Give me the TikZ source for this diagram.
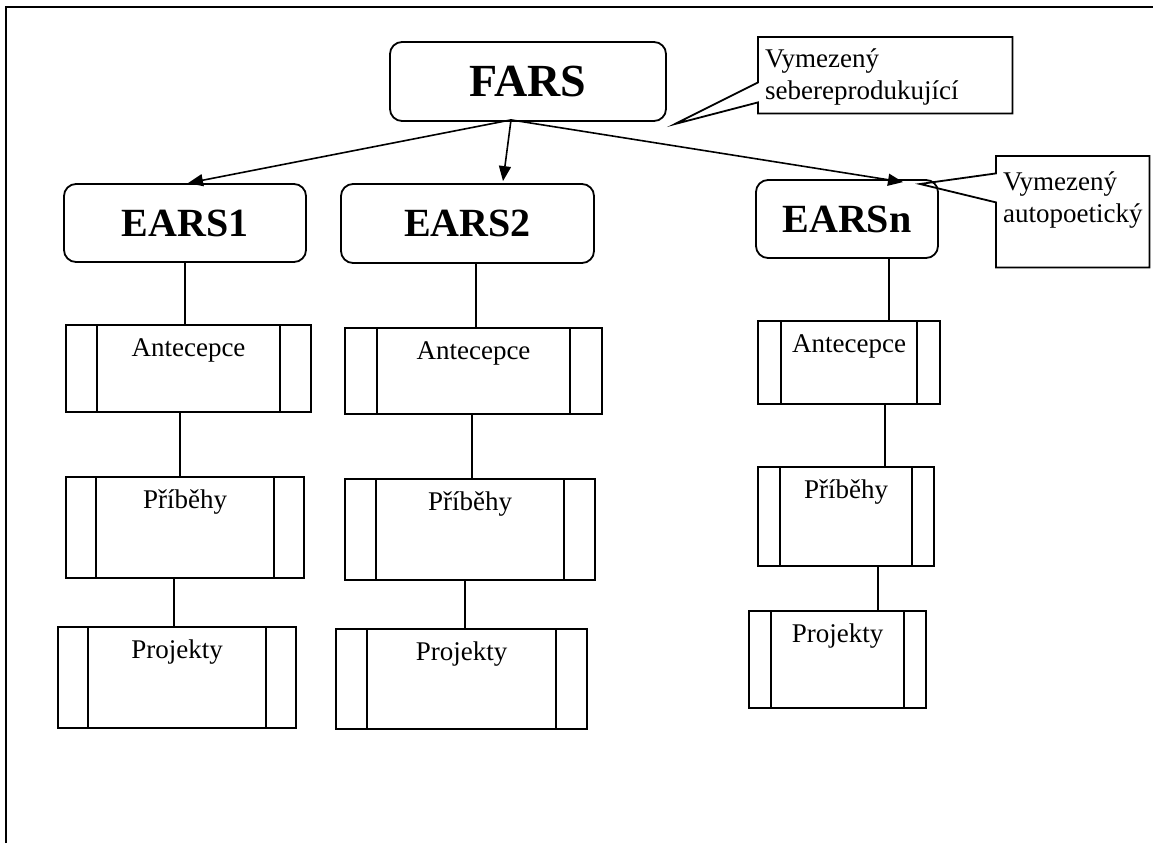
\documentclass[tikz,border=0pt]{standalone}
\usepackage{fontspec}
\setmainfont{Liberation Serif}
\usetikzlibrary{arrows.meta,calc}

\tikzset{
    hlavni/.style={draw, line width=1.8pt, rounded corners=12pt,
        font=\fontsize{40}{44}\selectfont\bfseries},
    proces/.style={draw, line width=1.8pt, inner ysep=0pt, text height=32pt,
        font=\fontsize{27}{30}\selectfont,
        path picture={
            \draw[line width=1.8pt]
                ($(path picture bounding box.north west)!0.125!(path picture bounding box.north east)$) --
                ($(path picture bounding box.south west)!0.125!(path picture bounding box.south east)$);
            \draw[line width=1.8pt]
                ($(path picture bounding box.north east)!0.125!(path picture bounding box.north west)$) --
                ($(path picture bounding box.south east)!0.125!(path picture bounding box.south west)$);
        }},
    popis/.style={align=left, inner xsep=7pt, inner ysep=0pt,
        font=\fontsize{27}{32}\selectfont},
    sipka/.style={-{Triangle[length=15pt,width=12pt]}, line width=1.6pt},
    spoj/.style={line width=1.7pt},
    silny/.style={line width=2.8pt},
}

\begin{document}
\begin{tikzpicture}[x=1pt, y=-1pt]
    \useasboundingbox (0,0) rectangle (1153,843);
    % ramecek
    \draw[line width=1.3pt] (6,843) -- (6,7) -- (1153,7);

    % FARS
    \node[hlavni, minimum width=276pt, minimum height=79pt,
        font=\fontsize{46}{50}\selectfont\bfseries] (fars) at (528,81.5) {FARS};
    \coordinate (farsdol) at ([xshift=-17pt,yshift=2pt]fars.south);

    % EARS
    \node[hlavni, minimum width=242pt, minimum height=78pt] (ears1) at (185,223) {EARS1};
    \node[hlavni, minimum width=253pt, minimum height=79pt] (ears2) at (467.5,223.5) {EARS2};
    \node[hlavni, minimum width=182pt, minimum height=78pt] (earsn) at (847,219) {EARSn};

    \draw[sipka] (farsdol) -- ([xshift=3pt]ears1.north);
    \draw[sipka] (farsdol) -- ([xshift=35.5pt,yshift=2pt]ears2.north);
    \draw[sipka] (farsdol) -- ([xshift=56pt,yshift=-3pt]earsn.north);

    % Sloupec 1
    \node[proces, anchor=north, minimum width=245pt, text depth=55pt] (ant1) at (188.5,324) {Antecepce};
    \node[proces, anchor=north, minimum width=238pt, text depth=69pt] (pri1) at (185,476) {Příběhy};
    \node[proces, anchor=north, minimum width=238pt, text depth=69pt] (pro1) at (177,626) {Projekty};
    \draw[line width=2.3pt] (ears1.south) -- ([xshift=-3.5pt]ant1.north);
    \draw[line width=2.3pt] ([xshift=-8.5pt]ant1.south) -- ([xshift=-5pt]pri1.north);
    \draw[silny] ([xshift=-11pt]pri1.south) -- ([xshift=-3pt]pro1.north);

    % Sloupec 2
    \node[proces, anchor=north, minimum width=257pt, text depth=54pt] (ant2) at (473.5,327) {Antecepce};
    \node[proces, anchor=north, minimum width=250pt, text depth=69pt] (pri2) at (470,478) {Příběhy};
    \node[proces, anchor=north, minimum width=251pt, text depth=68pt] (pro2) at (461.5,628) {Projekty};
    \draw[spoj] ([xshift=8.5pt]ears2.south) -- ([xshift=2.5pt]ant2.north);
    \draw[spoj] ([xshift=-1.5pt]ant2.south) -- ([xshift=2pt]pri2.north);
    \draw[silny] ([xshift=-5pt]pri2.south) -- ([xshift=3.5pt]pro2.north);

    % Sloupec n
    \node[proces, anchor=north, minimum width=182pt, text depth=51pt] (antn) at (849,320) {Antecepce};
    \node[proces, anchor=north, minimum width=176pt, text depth=67pt] (prin) at (846,466) {Příběhy};
    \node[proces, anchor=north, minimum width=177pt, text depth=65pt] (pron) at (837.5,610) {Projekty};
    \draw[spoj] ([xshift=42pt]earsn.south) -- ([xshift=40pt]antn.north);
    \draw[spoj] ([xshift=36pt]antn.south) -- ([xshift=39pt]prin.north);
    \draw[silny] ([xshift=32pt]prin.south) -- ([xshift=40.5pt]pron.north);

    % popisky
    \node[popis, anchor=north west, text width=240pt, text height=30pt, text depth=46pt]
        (pozn1) at (758,37) {Vymezený\\sebereprodukující};
    \coordinate (hrot1) at (675,124);
    \draw[line width=1.8pt] (pozn1.north west) -- (pozn1.north east) -- (pozn1.south east)
        -- (pozn1.south west) -- ([yshift=11pt]pozn1.south west) -- (hrot1)
        -- ([yshift=31pt]pozn1.south west) -- cycle;

    \node[popis, anchor=north west, text width=139pt, text height=34pt, text depth=77pt]
        (pozn2) at (996,156) {Vymezený\\autopoetický};
    \coordinate (hrot2) at (920,184);
    \draw[line width=1.8pt] (pozn2.north west) -- (pozn2.north east) -- (pozn2.south east)
        -- (pozn2.south west) -- ([yshift=65pt]pozn2.south west) -- (hrot2)
        -- ([yshift=94pt]pozn2.south west) -- cycle;
\end{tikzpicture}
\end{document}
